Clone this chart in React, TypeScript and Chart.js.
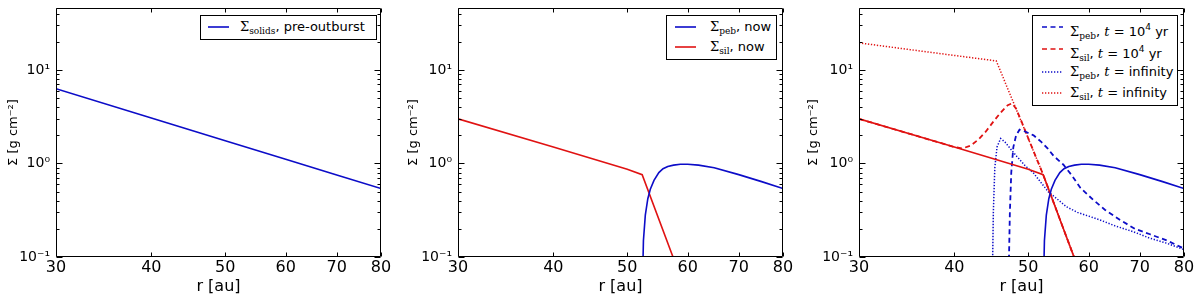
import React, { useEffect, useRef } from "react";
import { Chart, registerables } from "chart.js";

Chart.register(...registerables);

// ---------- axis ticks ----------
const X_TICKS = [30, 40, 50, 60, 70, 80];
const Y_TICKS = [0.1, 0.2, 0.3, 0.4, 0.5, 0.6, 0.7, 0.8, 0.9, 1, 2, 3, 4, 5, 6, 7, 8, 9, 10, 20, 30, 40];
const Y_MAJOR_LABELS: [number, string][] = [
  [0.1, "10⁻¹"],
  [1, "10⁰"],
  [10, "10¹"],
];
const X_MIN = 30;
const X_MAX = 80;
const Y_MIN = 0.1;
const Y_MAX = 46;

// ---------- data ----------
// panel 1: pre-outburst solids
const rSolids = [30, 40, 50, 60, 70, 80];
const sigmaSolids = [6.3, 3.06, 1.75, 1.11, 0.754, 0.54];

// panel 2 (and 3): now
const rSilNow = [30, 40, 50, 52.3, 57.4, 58.5];
const sigmaSilNow = [3.0, 1.5, 0.87, 0.76, 0.1, 0.066];

const rPebNow = [52.35, 52.5, 52.8, 53.2, 53.6, 54.2, 55, 55.7, 56.5, 57.5, 58.7, 60, 62, 65, 70, 75, 80];
const sigmaPebNow = [0.05, 0.15, 0.28, 0.42, 0.53, 0.66, 0.8, 0.88, 0.93, 0.96, 0.98, 0.98, 0.96, 0.9, 0.76, 0.64, 0.54];

// panel 3: t = 1e4 yr
const rPeb1e4 = [47.1, 47.3, 47.5, 47.8, 48.2, 48.7, 49.5, 50.8, 52, 53, 54, 55.6, 57, 58.5, 60.8, 63, 65.9, 69, 72.2, 76, 80];
const sigmaPeb1e4 = [0.05, 0.3, 0.8, 1.5, 2.0, 2.3, 2.2, 2.0, 1.7, 1.45, 1.2, 0.97, 0.75, 0.55, 0.41, 0.32, 0.25, 0.2, 0.175, 0.15, 0.123];

const rSil1e4 = [30, 40, 41, 42, 43, 44, 45, 46, 47, 47.6, 48.2, 49, 50, 52.3, 57.4, 58.5];
const sigmaSil1e4 = [3.0, 1.5, 1.45, 1.55, 1.8, 2.2, 2.8, 3.5, 4.2, 4.4, 3.86, 2.8, 1.86, 0.76, 0.1, 0.066];

// panel 3: t = infinity
const rPebInf = [44.85, 45.0, 45.2, 45.5, 46.0, 46.6, 47.5, 48.3, 49.5, 50.8, 52, 53.1, 54.5, 56.1, 58, 62, 65, 68.7, 72, 76, 80];
const sigmaPebInf = [0.05, 0.3, 0.9, 1.5, 1.85, 1.7, 1.4, 1.19, 0.95, 0.79, 0.62, 0.5, 0.42, 0.345, 0.3, 0.25, 0.215, 0.186, 0.16, 0.14, 0.12];

const rSilInf = [30, 35, 40, 45.4, 52.3, 57.4, 58.5];
const sigmaSilInf = [19.5, 16.5, 14.3, 12.5, 0.76, 0.1, 0.066];

// ---------- styles ----------
const BLUE = "#0c0cc8";
const RED = "#e01212";
const SOLID: number[] = [];
const DASHED = [5, 3.5];
const DOTTED = [1.3, 1.7];

type Series = { r: number[]; s: number[]; color: string; dash: number[]; width?: number };

const framePlugin = {
  id: "frame",
  afterDatasetsDraw(chart: any) {
    const { ctx, chartArea } = chart;
    const { left, right, top, bottom } = chartArea;
    const xs = chart.scales.x;
    const ys = chart.scales.y;
    ctx.save();
    ctx.strokeStyle = "#000";
    ctx.lineWidth = 1;
    const L = Math.round(left) + 0.5;
    const R = Math.round(right) - 0.5;
    const T = Math.round(top) + 0.5;
    const B = Math.round(bottom) - 0.5;
    ctx.beginPath();
    ctx.rect(L, T, R - L, B - T);
    ctx.stroke();
    ctx.beginPath();
    for (const v of X_TICKS) {
      const px = Math.round(xs.getPixelForValue(v)) + 0.5;
      ctx.moveTo(px, B);
      ctx.lineTo(px, B - 4);
      ctx.moveTo(px, T);
      ctx.lineTo(px, T + 4);
    }
    for (const v of Y_TICKS) {
      const major = Y_MAJOR_LABELS.some(([m]) => Math.abs(m - v) < 1e-9);
      const len = major ? 6 : 3;
      const py = Math.round(ys.getPixelForValue(v)) + 0.5;
      ctx.moveTo(L, py);
      ctx.lineTo(L + len, py);
      ctx.moveTo(R, py);
      ctx.lineTo(R - len, py);
    }
    ctx.stroke();
    ctx.restore();
  },
};

function Panel(props: { left: number; plotLeft: number; plotRight: number; series: Series[] }) {
  const ref = useRef<HTMLCanvasElement>(null);
  useEffect(() => {
    const { plotLeft, plotRight, series } = props;
    const chart = new Chart(ref.current as HTMLCanvasElement, {
      type: "line",
      data: {
        datasets: series.map((d) => ({
          data: d.r.map((r, i) => ({ x: r, y: d.s[i] })),
          borderColor: d.color,
          borderWidth: d.width ?? 1.6,
          borderDash: d.dash,
          pointRadius: 0,
          tension: 0,
          fill: false,
        })),
      },
      options: {
        responsive: false,
        animation: false,
        devicePixelRatio: 1,
        layout: { padding: { top: 8, right: 400 - plotRight, left: 0, bottom: 0 } },
        plugins: { legend: { display: false }, tooltip: { enabled: false } },
        scales: {
          x: {
            type: "logarithmic",
            min: X_MIN,
            max: X_MAX,
            afterBuildTicks: (s: any) => {
              s.ticks = X_TICKS.map((v) => ({ value: v }));
            },
            afterFit: (s: any) => {
              s.height = 42;
              s.paddingLeft = 0;
              s.paddingRight = 0;
              s.paddingTop = 0;
              s.paddingBottom = 0;
            },
            grid: { display: false, drawTicks: false },
            border: { display: false },
            ticks: {
              autoSkip: false,
              maxRotation: 0,
              padding: 1,
              color: "#000",
              font: { family: "DejaVu Sans", size: 16 },
              callback: (v: any) => String(v),
            },
            title: {
              display: true,
              text: "r [au]",
              color: "#000",
              font: { family: "DejaVu Sans", size: 16 },
              padding: { top: 0, bottom: 3 },
            },
          },
          y: {
            type: "logarithmic",
            min: Y_MIN,
            max: Y_MAX,
            afterBuildTicks: (s: any) => {
              s.ticks = Y_TICKS.map((v) => ({ value: v }));
            },
            afterFit: (s: any) => {
              s.width = plotLeft;
              s.paddingLeft = 0;
              s.paddingRight = 0;
              s.paddingTop = 0;
              s.paddingBottom = 0;
            },
            grid: { display: false, drawTicks: false },
            border: { display: false },
            ticks: {
              autoSkip: false,
              padding: 6,
              color: "#000",
              font: { family: "DejaVu Sans", size: 14 },
              callback: (v: any) => {
                const hit = Y_MAJOR_LABELS.find(([m]) => Math.abs(m - Number(v)) < 1e-9);
                return hit ? hit[1] : "";
              },
            },
            title: {
              display: true,
              text: "Σ [g cm⁻²]",
              color: "#000",
              font: { family: "DejaVu Sans", size: 13 },
              padding: { top: 6, bottom: 0 },
            },
          },
        },
      },
      plugins: [framePlugin],
    } as any);
    return () => chart.destroy();
  }, []);
  return (
    <canvas
      ref={ref}
      width={400}
      height={299}
      style={{ position: "absolute", left: props.left, top: 0, width: 400, height: 299, display: "block" }}
    />
  );
}

type LegendRow = { color: string; dash: number[]; label: React.ReactNode };

const subStyle: React.CSSProperties = { fontSize: 9, verticalAlign: -3, fontFamily: "DejaVu Serif" };
const supStyle: React.CSSProperties = { fontSize: 9, verticalAlign: 6, fontFamily: "DejaVu Sans" };
const sigma = <span style={{ fontFamily: "DejaVu Serif" }}>Σ</span>;

function Legend(props: {
  left: number;
  top: number;
  width: number;
  height: number;
  rowYs: number[];
  lineX: number;
  textX: number;
  rows: LegendRow[];
}) {
  const { left, top, width, height, rowYs, lineX, textX, rows } = props;
  return (
    <>
      <div
        style={{
          position: "absolute",
          left,
          top,
          width: width - 2,
          height: height - 2,
          border: "1px solid #000",
          background: "#fff",
        }}
      />
      {rows.map((row, i) => (
        <React.Fragment key={i}>
          <svg
            style={{ position: "absolute", left: lineX, top: rowYs[i] - 3 }}
            width={21}
            height={6}
          >
            <line
              x1={0}
              y1={3}
              x2={21}
              y2={3}
              stroke={row.color}
              strokeWidth={1.6}
              strokeDasharray={row.dash.length ? row.dash.join(",") : undefined}
            />
          </svg>
          <div
            style={{
              position: "absolute",
              left: textX,
              top: rowYs[i] - 10,
              height: 20,
              lineHeight: "20px",
              whiteSpace: "nowrap",
              fontFamily: "DejaVu Sans",
              fontSize: 13,
              color: "#000",
            }}
          >
            {row.label}
          </div>
        </React.Fragment>
      ))}
    </>
  );
}

export default function App() {
  const p1: Series[] = [{ r: rSolids, s: sigmaSolids, color: BLUE, dash: SOLID }];
  const p2: Series[] = [
    { r: rPebNow, s: sigmaPebNow, color: BLUE, dash: SOLID },
    { r: rSilNow, s: sigmaSilNow, color: RED, dash: SOLID },
  ];
  const p3: Series[] = [
    { r: rPebNow, s: sigmaPebNow, color: BLUE, dash: SOLID },
    { r: rSilNow, s: sigmaSilNow, color: RED, dash: SOLID },
    { r: rPeb1e4, s: sigmaPeb1e4, color: BLUE, dash: DASHED, width: 1.8 },
    { r: rSil1e4, s: sigmaSil1e4, color: RED, dash: DASHED, width: 1.8 },
    { r: rPebInf, s: sigmaPebInf, color: BLUE, dash: DOTTED, width: 1.5 },
    { r: rSilInf, s: sigmaSilInf, color: RED, dash: DOTTED, width: 1.5 },
  ];
  const t = <span style={{ fontFamily: "DejaVu Serif", fontStyle: "italic" }}>t</span>;
  return (
    <div style={{ position: "absolute", left: 0, top: 0, width: 1200, height: 299, background: "#fff", overflow: "hidden" }}>
      <Panel left={0} plotLeft={56} plotRight={381} series={p1} />
      <Panel left={400} plotLeft={58} plotRight={383} series={p2} />
      <Panel left={800} plotLeft={59} plotRight={384} series={p3} />
      <Legend
        left={200}
        top={15}
        width={177}
        height={25}
        rowYs={[27]}
        lineX={208}
        textX={240}
        rows={[
          {
            color: BLUE,
            dash: SOLID,
            label: (
              <>
                {sigma}
                <span style={subStyle}>solids</span>, pre-outburst
              </>
            ),
          },
        ]}
      />
      <Legend
        left={666}
        top={15}
        width={111}
        height={45}
        rowYs={[27, 47]}
        lineX={675}
        textX={710}
        rows={[
          { color: BLUE, dash: SOLID, label: (<>{sigma}<span style={subStyle}>peb</span>, now</>) },
          { color: RED, dash: SOLID, label: (<>{sigma}<span style={subStyle}>sil</span>, now</>) },
        ]}
      />
      <Legend
        left={1032}
        top={15}
        width={146}
        height={91}
        rowYs={[27, 49, 71.5, 93]}
        lineX={1042}
        textX={1070}
        rows={[
          {
            color: BLUE,
            dash: DASHED,
            label: (<>{sigma}<span style={subStyle}>peb</span>, {t} = 10<span style={supStyle}>4</span> yr</>),
          },
          {
            color: RED,
            dash: DASHED,
            label: (<>{sigma}<span style={subStyle}>sil</span>, {t} = 10<span style={supStyle}>4</span> yr</>),
          },
          {
            color: BLUE,
            dash: DOTTED,
            label: (<>{sigma}<span style={subStyle}>peb</span>, {t} = infinity</>),
          },
          {
            color: RED,
            dash: DOTTED,
            label: (<>{sigma}<span style={subStyle}>sil</span>, {t} = infinity</>),
          },
        ]}
      />
    </div>
  );
}
